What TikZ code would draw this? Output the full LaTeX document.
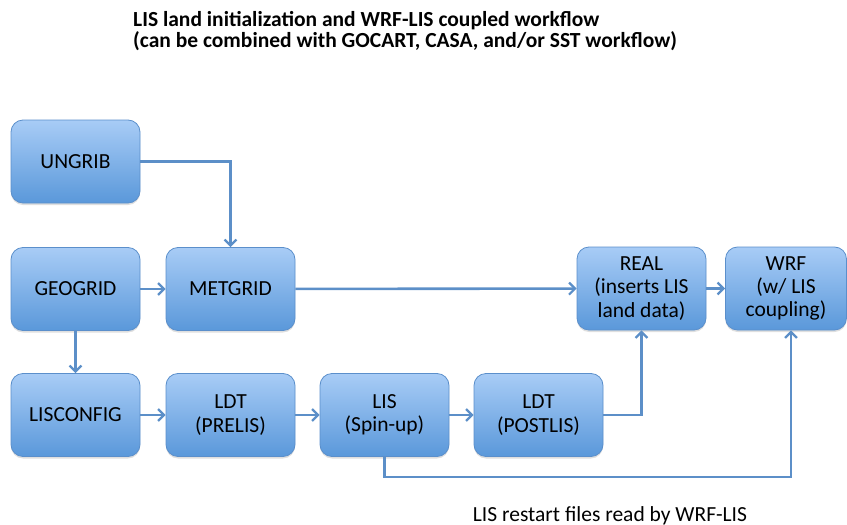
\documentclass[tikz,border=0pt]{standalone}
\usepackage{fontspec}
\setmainfont{Carlito}
\usetikzlibrary{arrows.meta,shadows}
\definecolor{boxtop}{HTML}{A8CCF6}
\definecolor{boxbot}{HTML}{5A98DA}
\definecolor{boxline}{HTML}{5B8FCB}
\definecolor{flow}{HTML}{5C8FC8}
\tikzset{
  stage/.style={rectangle,rounded corners=12pt,draw=boxline,line width=0.8pt,
    top color=boxtop,bottom color=boxbot,minimum width=129pt,minimum height=83pt,
    align=center,font=\fontsize{21.5}{23.3}\selectfont,inner sep=2pt,
    drop shadow={shadow xshift=0pt,shadow yshift=-2pt,opacity=0.25}},
  link/.style={draw=flow,line width=2.6pt,-{Straight Barb[length=6pt,width=12pt,line width=2.2pt]}}
}
\begin{document}
\begin{tikzpicture}[x=1pt,y=-1pt]
      \useasboundingbox (0,0) rectangle (847,525);
      \path
        (75.5,161.5) node[stage] (0){UNGRIB}
        (75.5,289) node[stage] (1){GEOGRID}
        (230.5,289) node[stage] (2){METGRID}
        (641.5,288.5) node[stage] (3){REAL\\(inserts LIS\\land data)}
        (786,288.5) node[stage,minimum width=121pt] (4){WRF\\(w/ LIS\\coupling)}
        (75.5,415) node[stage] (5){LISCONFIG}
        (230.5,415) node[stage] (6){LDT\\(PRELIS)}
        (384.5,415) node[stage] (7){LIS\\(Spin-up)}
        (538.5,415) node[stage] (8){LDT\\(POSTLIS)};
      \node[anchor=north west,align=left,inner sep=0pt,font=\fontsize{21.5}{21.5}\selectfont\bfseries] (title) at (133,11)
        {LIS land initialization and WRF-LIS coupled workflow\\(can be combined with GOCART, CASA, and/or SST workflow)};
      \node[anchor=base,inner sep=0pt,font=\fontsize{21.5}{24}\selectfont] (note) at (610,521) {LIS restart files read by WRF-LIS};
      \coordinate (r) at (791,477);
      \begin{scope}[link]
        \draw (0.east) -| (2.north);
        \draw (1) to (2);
        \draw (2) to (3);
        \draw (3) to (4);
        \draw (1) to (5);
        \draw (5) to (6);
        \draw (6) to (7);
        \draw (7) to (8);
        \draw (8.east) -| (3.south);
        \draw (7.south) |- (r) -- (r |- 4.south);
      \end{scope}
    \end{tikzpicture}
\end{document}
